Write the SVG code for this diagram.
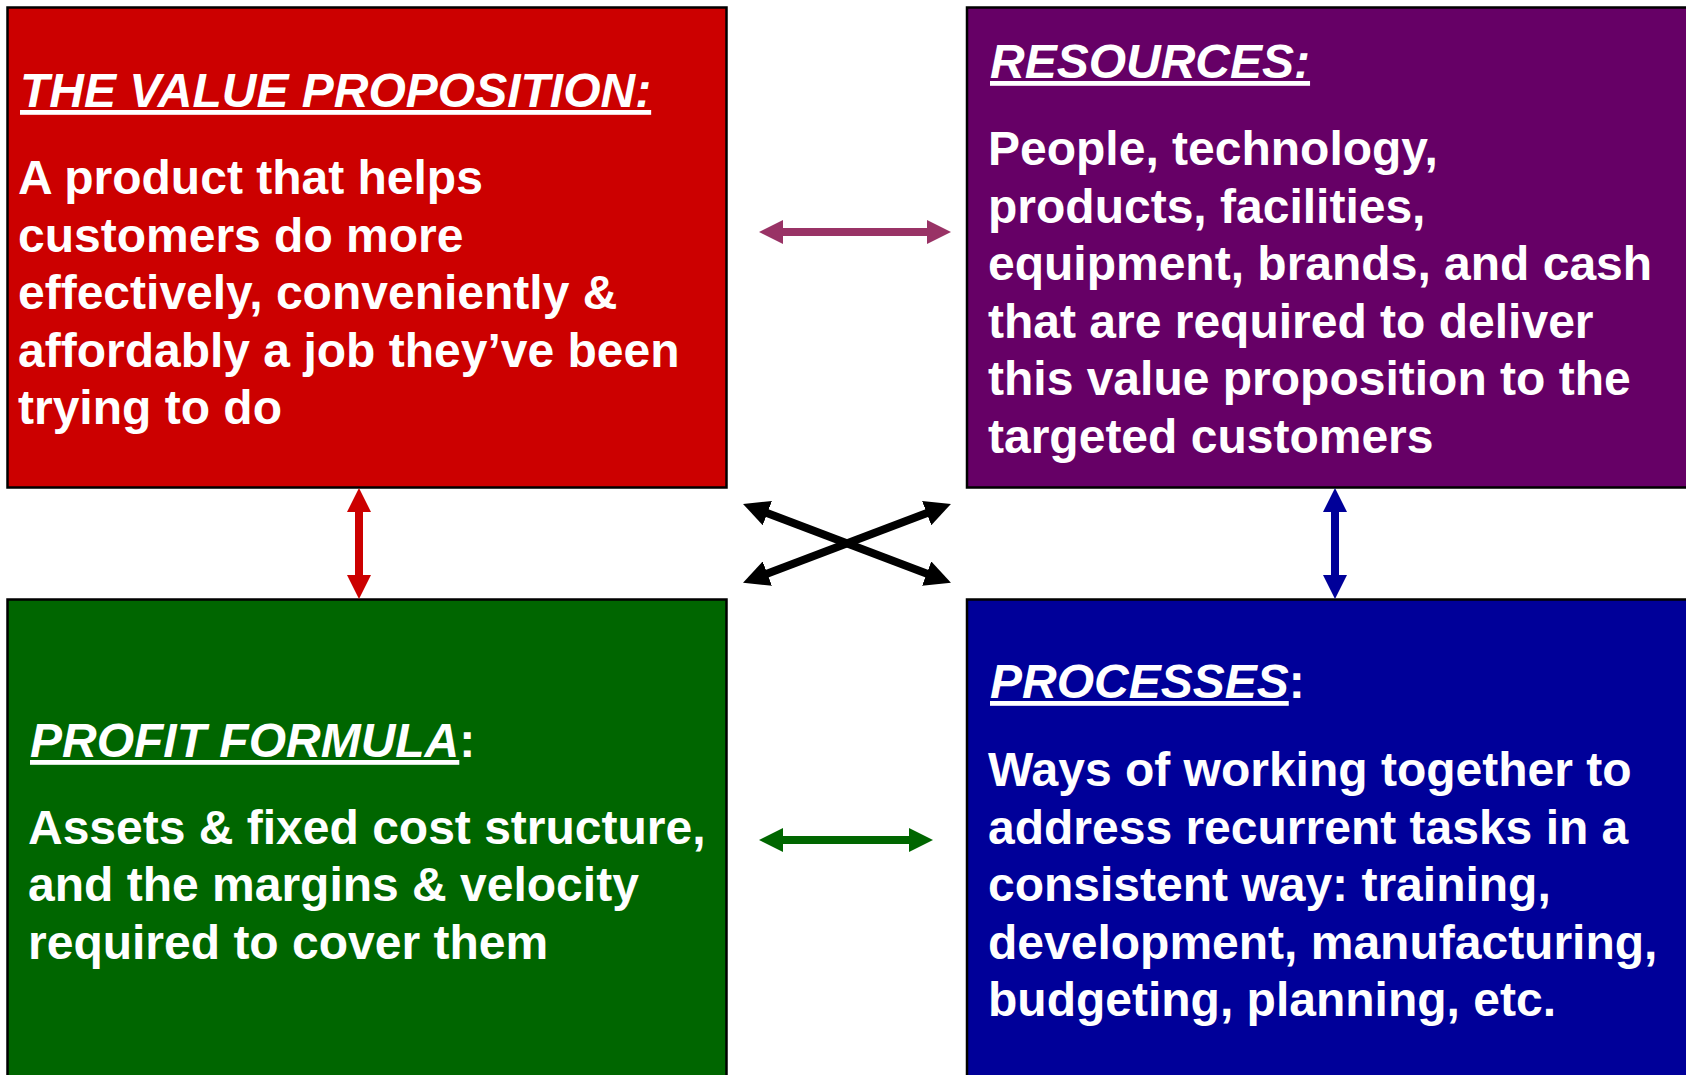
<svg xmlns="http://www.w3.org/2000/svg" width="1686" height="1075" viewBox="0 0 1686 1075">
<style>
.box{stroke:#000;stroke-width:2.5}
.t{font-family:"Liberation Sans",Arial,sans-serif;font-weight:bold;font-size:48px;fill:#fff}
.h{font-style:italic;text-decoration:underline}
.n{font-style:normal;text-decoration:none}
.sh{fill:none;stroke-width:8}
</style>
<defs>
<marker id="mPink" viewBox="0 0 24 24" refX="4" refY="12" markerWidth="24" markerHeight="24" markerUnits="userSpaceOnUse" orient="auto-start-reverse"><path d="M0,0 L24,12 L0,24 z" fill="#993366"/></marker>
<marker id="mRed" viewBox="0 0 24 24" refX="4" refY="12" markerWidth="24" markerHeight="24" markerUnits="userSpaceOnUse" orient="auto-start-reverse"><path d="M0,0 L24,12 L0,24 z" fill="#CC0000"/></marker>
<marker id="mBlue" viewBox="0 0 24 24" refX="4" refY="12" markerWidth="24" markerHeight="24" markerUnits="userSpaceOnUse" orient="auto-start-reverse"><path d="M0,0 L24,12 L0,24 z" fill="#000099"/></marker>
<marker id="mGreen" viewBox="0 0 24 24" refX="4" refY="12" markerWidth="24" markerHeight="24" markerUnits="userSpaceOnUse" orient="auto-start-reverse"><path d="M0,0 L24,12 L0,24 z" fill="#006600"/></marker>
<marker id="mBlack" viewBox="0 0 26 26" refX="4" refY="13" markerWidth="26" markerHeight="26" markerUnits="userSpaceOnUse" orient="auto-start-reverse"><path d="M0,0 L26,13 L0,26 z" fill="#000"/></marker>
</defs>
<rect width="1686" height="1075" fill="#fff"/>
<g id="value-proposition">
<rect class="box" x="7.5" y="7.5" width="719" height="480" fill="#CC0000"/>
<text class="t h" x="20" y="107">THE VALUE PROPOSITION:</text>
<text class="t" x="18"><tspan x="18" y="194">A product that helps</tspan><tspan x="18" y="251.6">customers do more</tspan><tspan x="18" y="309.2">effectively, conveniently &amp;</tspan><tspan x="18" y="366.8">affordably a job they’ve been</tspan><tspan x="18" y="424.4">trying to do</tspan></text>
</g>
<g id="resources">
<rect class="box" x="967" y="7.5" width="730" height="480" fill="#660066"/>
<text class="t h" x="990" y="78">RESOURCES:</text>
<text class="t" x="988"><tspan x="988" y="165">People, technology,</tspan><tspan x="988" y="222.5">products, facilities,</tspan><tspan x="988" y="280">equipment, brands, and cash</tspan><tspan x="988" y="337.5">that are required to deliver</tspan><tspan x="988" y="395">this value proposition to the</tspan><tspan x="988" y="452.5">targeted customers</tspan></text>
</g>
<g id="profit-formula">
<rect class="box" x="7.5" y="599.5" width="719" height="490" fill="#006600"/>
<text class="t" x="30" y="757"><tspan class="h">PROFIT FORMULA</tspan><tspan class="n">:</tspan></text>
<text class="t" x="28"><tspan x="28" y="843.5">Assets &amp; fixed cost structure,</tspan><tspan x="28" y="901">and the margins &amp; velocity</tspan><tspan x="28" y="958.5">required to cover them</tspan></text>
</g>
<g id="processes">
<rect class="box" x="967" y="599.5" width="730" height="490" fill="#000099"/>
<text class="t" x="990" y="698"><tspan class="h">PROCESSES</tspan><tspan class="n">:</tspan></text>
<text class="t" x="988"><tspan x="988" y="786">Ways of working together to</tspan><tspan x="988" y="843.5">address recurrent tasks in a</tspan><tspan x="988" y="901">consistent way: training,</tspan><tspan x="988" y="958.5">development, manufacturing,</tspan><tspan x="988" y="1016">budgeting, planning, etc.</tspan></text>
</g>
<g id="connectors">
<line class="sh" x1="779" y1="232" x2="931" y2="232" stroke="#993366" marker-start="url(#mPink)" marker-end="url(#mPink)"/>
<line class="sh" x1="779" y1="840" x2="913" y2="840" stroke="#006600" marker-start="url(#mGreen)" marker-end="url(#mGreen)"/>
<line class="sh" x1="359" y1="508" x2="359" y2="579" stroke="#CC0000" marker-start="url(#mRed)" marker-end="url(#mRed)"/>
<line class="sh" x1="1335" y1="508" x2="1335" y2="579" stroke="#000099" marker-start="url(#mBlue)" marker-end="url(#mBlue)"/>
<line class="sh" x1="763.6" y1="511.7" x2="930.4" y2="575" stroke="#000" marker-start="url(#mBlack)" marker-end="url(#mBlack)"/>
<line class="sh" x1="763.6" y1="575" x2="930.4" y2="511.7" stroke="#000" marker-start="url(#mBlack)" marker-end="url(#mBlack)"/>
</g>
</svg>
